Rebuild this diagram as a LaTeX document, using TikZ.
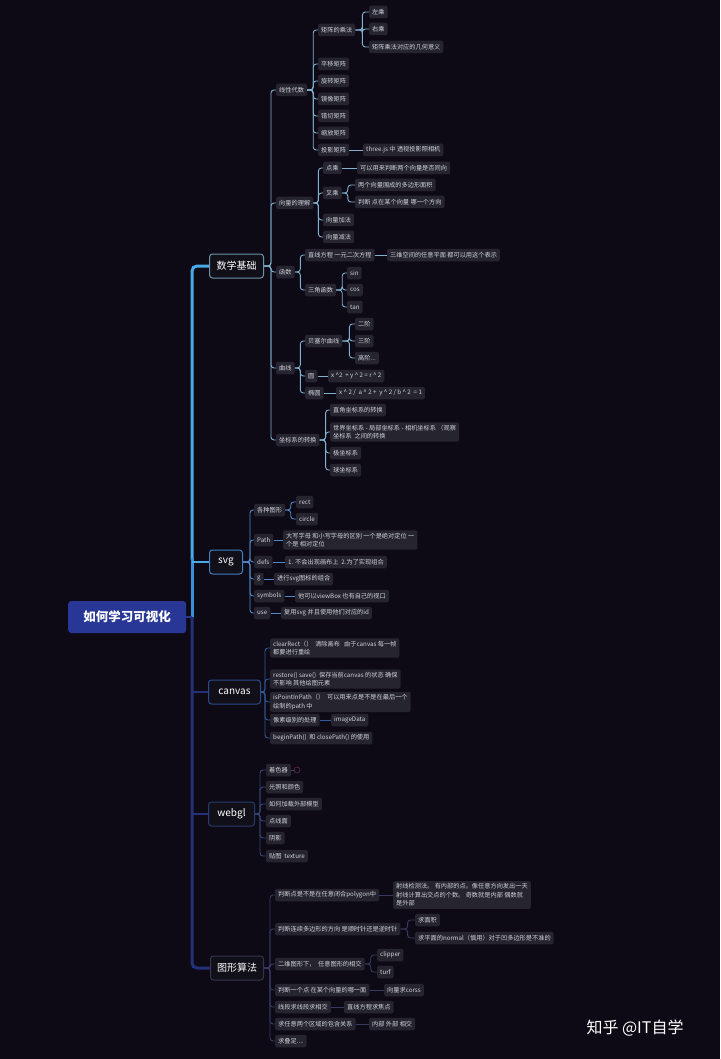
\documentclass[tikz,border=0pt]{standalone}
\usepackage{fontspec}
\setmainfont{Noto Sans CJK SC}
\definecolor{bg}{HTML}{0D0A15}
\definecolor{ndf}{HTML}{25242F}
\definecolor{ndt}{HTML}{D2D3DB}
\definecolor{lf}{HTML}{111019}
\definecolor{rootf}{HTML}{283696}
\definecolor{tkup}{HTML}{4AAAE8}
\definecolor{tkmid}{HTML}{3C8ED8}
\definecolor{tklow}{HTML}{25307A}
\definecolor{mathc}{HTML}{7FB1CF}
\definecolor{mathb}{HTML}{6D93A8}
\definecolor{svgc}{HTML}{4F88C8}
\definecolor{svgb}{HTML}{3F7FC4}
\definecolor{canc}{HTML}{34589A}
\definecolor{canb}{HTML}{2B4A8E}
\definecolor{webc}{HTML}{33477A}
\definecolor{webb}{HTML}{293A6A}
\definecolor{algc}{HTML}{383A62}
\definecolor{algb}{HTML}{34344F}
\definecolor{bub}{HTML}{6A2A3A}
\tikzset{
  nd/.style={anchor=west, fill=ndf, text=ndt, rounded corners=1.5pt,
    font=\fontsize{6.2}{8.5}\selectfont, inner xsep=3pt, inner ysep=1pt, minimum height=12.5pt},
  ndm/.style={nd, align=left, inner ysep=2.5pt},
  lone/.style={anchor=west, fill=lf, text=white, rounded corners=3pt, line width=1pt,
    font=\fontsize{10}{11}\selectfont, minimum height=24pt, inner xsep=2pt},
  rootbox/.style={anchor=west, fill=rootf, text=white, rounded corners=3pt,
    font=\fontsize{12.5}{14}\selectfont\bfseries, minimum height=32pt, minimum width=118pt},
  lk/.style={line width=0.9pt, rounded corners=3pt},
  trunk/.style={line width=3pt, rounded corners=5pt},
  branch/.style={line width=2pt},
}
\newcommand\mybus[3]{\foreach \c in {#3}{\draw[lk] (#1.east) -- ++(#2,0) |- (\c.west);}}
\newcommand\mylink[2]{\draw[lk] (#1.east) -- (#2.west);}
\begin{document}
\begin{tikzpicture}[x=1pt,y={(0pt,-1pt)}]
\fill[bg] (0,0) rectangle (720,1059);
\useasboundingbox (0,0) rectangle (720,1059);

% root and level 1
\node[rootbox] (r) at (68,617) {如何学习可视化};
\coordinate (tk) at (192,617);
\node[lone, draw=mathb, minimum width=54pt] (m) at (209,266) {数学基础};
\node[lone, draw=svgb, minimum width=33pt] (s) at (209,562) {svg};
\node[lone, draw=canb, minimum width=52pt] (k) at (208,692) {canvas};
\node[lone, draw=webb, minimum width=46pt] (w) at (208,814) {webgl};
\node[lone, draw=algb, minimum width=53pt] (g) at (210,968) {图形算法};

\draw[trunk, tkup] (m.west) -| (192,560);
\draw[trunk, tkmid] (192,558) -- (tk);
\draw[branch, tkup] (s.west) -- (s.west -| tk);
\draw[line width=2pt, rootf] (r.east) -- (tk);
\draw[trunk, tklow] (tk) |- (g.west);
\draw[branch, tklow] (k.west -| tk) -- (k.west);
\draw[branch, tklow] (w.west -| tk) -- (w.west);

% ===== math =====
\begin{scope}[lk/.append style={draw=mathc}]
\node[nd] (la) at (276,90) {线性代数};
\node[nd] (lb) at (276,203) {向量的理解};
\node[nd] (lc) at (276,272) {函数};
\node[nd] (ld) at (276,368) {曲线};
\node[nd] (le) at (276,440) {坐标系的转换};
\mybus{m}{7}{la,lb,lc,ld,le}

\node[nd] (a1) at (318,30) {矩阵的乘法};
\node[nd] (a2) at (318,64) {平移矩阵};
\node[nd] (a3) at (318,81) {旋转矩阵};
\node[nd] (a4) at (318,99) {镜像矩阵};
\node[nd] (a5) at (318,116) {错切矩阵};
\node[nd] (a6) at (318,133) {缩放矩阵};
\node[nd] (a7) at (318,150) {投影矩阵};
\node[nd] (a7x) at (363,150) {three.js 中 透视投影照相机};
\mybus{la}{6}{a1,a2,a3,a4,a5,a6,a7}
\mylink{a7}{a7x}
\node[nd] (a1a) at (369,12) {左乘};
\node[nd] (a1b) at (369,29) {右乘};
\node[nd] (a1c) at (369,47) {矩阵乘法对应的几何意义};
\mybus{a1}{7}{a1a,a1b,a1c}

\node[nd] (b1) at (323,168) {点乘};
\node[nd] (b1x) at (357,168) {可以用来判断两个向量是否同向};
\node[nd] (b2) at (323,193) {叉乘};
\node[nd] (b2a) at (355,185) {两个向量围成的多边形面积};
\node[nd] (b2b) at (355,202) {判断 点在某个向量 哪一个方向};
\node[nd] (b3) at (323,220) {向量加法};
\node[nd] (b4) at (323,237) {向量减法};
\mybus{lb}{5}{b1,b2,b3,b4}
\mylink{b1}{b1x}
\mybus{b2}{6}{b2a,b2b}

\node[nd] (c1) at (305,255) {直线方程 一元二次方程};
\node[nd] (c1x) at (387,255) {三维空间的任意平面 都可以用这个表示};
\node[nd] (c2) at (305,290) {三角函数};
\node[nd] (c2a) at (347,273) {sin};
\node[nd] (c2b) at (347,290) {cos};
\node[nd] (c2c) at (347,307) {tan};
\mybus{lc}{5.5}{c1,c2}
\mylink{c1}{c1x}
\mybus{c2}{6}{c2a,c2b,c2c}

\node[nd] (d1) at (305,341) {贝塞尔曲线};
\node[nd] (d1a) at (355,324) {二阶};
\node[nd] (d1b) at (355,341) {三阶};
\node[nd] (d1c) at (355,358) {高阶...};
\node[nd] (d2) at (305,376) {圆};
\node[nd] (d2x) at (328,376) {x \textasciicircum 2 \ + y \textasciicircum\ 2 = r \textasciicircum\ 2};
\node[nd] (d3) at (305,393) {椭圆};
\node[nd] (d3x) at (336,393) {x \textasciicircum\ 2 / \ a \textasciicircum\ 2 + \ y \textasciicircum\ 2 / b \textasciicircum\ 2 \ = 1};
\mybus{ld}{5.5}{d1,d2,d3}
\mybus{d1}{7}{d1a,d1b,d1c}
\mylink{d2}{d2x}
\mylink{d3}{d3x}

\node[nd] (e1) at (330,410) {直角坐标系的转换};
\node[ndm] (e2) at (330,432) {世界坐标系 - 局部坐标系 - 相机坐标系 （观察\\坐标系\ \ 之间的转换};
\node[nd] (e3) at (330,453) {极坐标系};
\node[nd] (e4) at (330,470) {球坐标系};
\mybus{le}{6}{e1,e2,e3,e4}
\end{scope}

% ===== svg =====
\begin{scope}[lk/.append style={draw=svgc}]
\node[nd] (s1) at (254,510) {各种图形};
\node[nd] (s1a) at (296,502) {rect};
\node[nd] (s1b) at (296,519) {circle};
\node[nd] (s2) at (254,540) {Path};
\node[ndm] (s2x) at (283,540) {大写字母 和小写字母的区别 一个是绝对定位 一\\个是 相对定位};
\node[nd] (s3) at (254,562) {defs};
\node[nd] (s3x) at (285,562) {1. 不会出现画布上\ \ 2.为了实现组合};
\node[nd] (s4) at (254,579) {g};
\node[nd] (s4x) at (274,579) {进行svg图标的组合};
\node[nd] (s5) at (254,596) {symbols};
\node[nd] (s5x) at (295,596) {他可以viewBox 也有自己的视口};
\node[nd] (s6) at (254,613) {use};
\node[nd] (s6x) at (281,613) {复用svg 并且使用他们对应的id};
\mybus{s}{7}{s1,s2,s3,s4,s5,s6}
\mybus{s1}{5.5}{s1a,s1b}
\mylink{s2}{s2x}
\mylink{s3}{s3x}
\mylink{s4}{s4x}
\mylink{s5}{s5x}
\mylink{s6}{s6x}
\end{scope}

% ===== canvas =====
\begin{scope}[lk/.append style={draw=canc}]
\node[ndm] (k1) at (270,648) {clearRect（）\ \ 清除画布\ \ \ 由于canvas 每一帧\\都要进行重绘};
\node[ndm] (k2) at (270,679) {restore() save()\ \ 保存当前canvas 的状态 确保\\不影响 其他绘图元素};
\node[ndm] (k3) at (270,702) {isPointInPath（）\ \ 可以用来点是不是在最后一个\\绘制的path 中};
\node[nd] (k4) at (270,720) {像素级别的处理};
\node[nd] (k4x) at (331,720) {imageData};
\node[nd] (k5) at (270,738) {beginPath()\ \ 和 closePath() 的使用};
\mybus{k}{4}{k1,k2,k3,k4,k5}
\mylink{k4}{k4x}
\end{scope}

% ===== webgl =====
\begin{scope}[lk/.append style={draw=webc}]
\node[nd] (w1) at (266,770) {着色器};
\node[draw=bub, line width=0.6pt, circle, minimum size=6pt, inner sep=0pt] (w1b) at (297,770) {};
\node[nd] (w2) at (266,787) {光照和颜色};
\node[nd] (w3) at (266,804) {如何加载外部模型};
\node[nd] (w4) at (266,821) {点线面};
\node[nd] (w5) at (266,838) {阴影};
\node[nd] (w6) at (266,856) {贴图\ \ texture};
\mybus{w}{5}{w1,w2,w3,w4,w5,w6}
\draw[lk] (w1.east) -- (w1b.west);
\end{scope}

% ===== algorithms =====
\begin{scope}[lk/.append style={draw=algc}]
\node[nd] (g1) at (275,895) {判断点是不是在任意闭合polygon中};
\node[ndm] (g1x) at (393,895) {射线检测法。 有内部的点。像任意方向发出一天\\射线计算出交点的个数。 奇数就是内部 偶数就\\是外部};
\node[nd] (g2) at (275,929) {判断连续多边形的方向 是顺时针还是逆时针};
\node[nd] (g2a) at (415,920) {求面积};
\node[nd] (g2b) at (415,938) {求平面的normal（慎用）对于凹多边形是不准的};
\node[nd] (g3) at (275,964) {二维图形下，\ \ 任意图形的相交};
\node[nd] (g3a) at (377,955) {clipper};
\node[nd] (g3b) at (377,972) {turf};
\node[nd] (g4) at (275,990) {判断一个点 在某个向量的哪一面};
\node[nd] (g4x) at (384,990) {向量求corss};
\node[nd] (g5) at (275,1007) {线段求线段求相交};
\node[nd] (g5x) at (344,1007) {直线方程求焦点};
\node[nd] (g6) at (275,1024) {求任意两个区域的包含关系};
\node[nd] (g6x) at (369,1024) {内部 外部 相交};
\node[nd] (g7) at (275,1041) {求叠足....};
\mybus{g}{6}{g1,g2,g3,g4,g5,g6,g7}
\mylink{g1}{g1x}
\mybus{g2}{7}{g2a,g2b}
\mybus{g3}{6}{g3a,g3b}
\mylink{g4}{g4x}
\mylink{g5}{g5x}
\mylink{g6}{g6x}
\end{scope}

\node[text=white, font=\fontsize{16}{18}\selectfont] (wm) at (635,1028) {知乎 @IT自学};
\end{tikzpicture}
\end{document}
